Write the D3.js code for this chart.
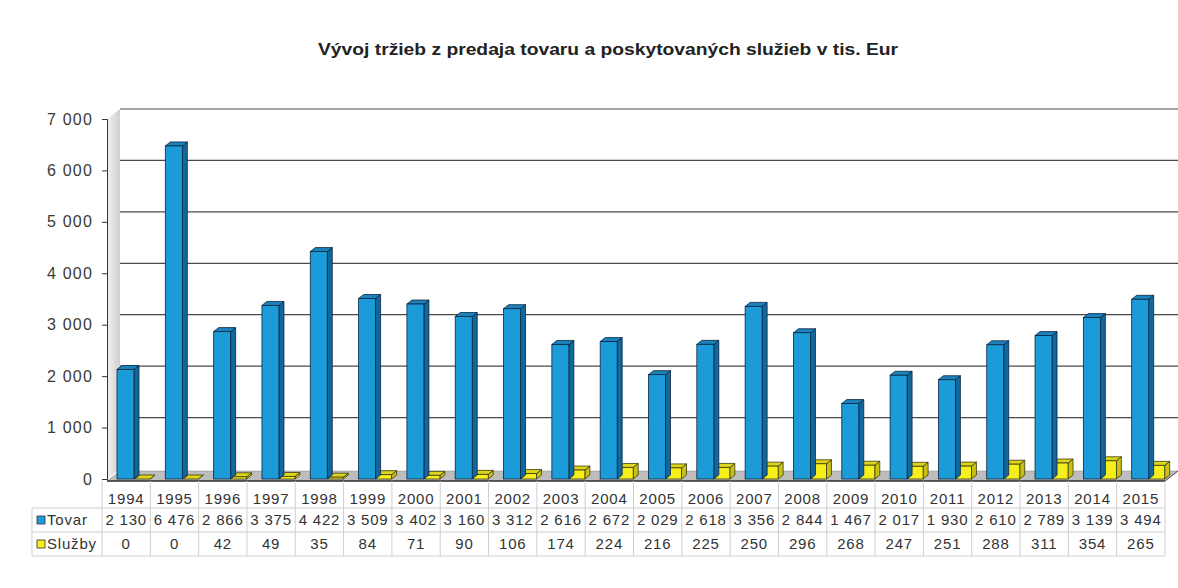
<!DOCTYPE html>
<html>
<head>
<meta charset="utf-8">
<script src="https://cdn.jsdelivr.net/npm/d3@7"></script>
<style>
  body { margin: 0; background: #fff; }
  svg text { font-family: "Liberation Sans", Arial, sans-serif; fill: #333; }
</style>
</head>
<body>
<svg id="chart" width="1178" height="588"></svg>
<script>
const years = ["1994","1995","1996","1997","1998","1999","2000","2001","2002","2003","2004",
  "2005","2006","2007","2008","2009","2010","2011","2012","2013","2014","2015"];
const tovar = [2130,6476,2866,3375,4422,3509,3402,3160,3312,2616,2672,2029,2618,3356,2844,1467,2017,1930,2610,2789,3139,3494];
const sluzby = [0,0,42,49,35,84,71,90,106,174,224,216,225,250,296,268,247,251,288,311,354,265];
const yTicks = [0,1000,2000,3000,4000,5000,6000,7000];
const title = "Vývoj tržieb z predaja tovaru a poskytovaných služieb v tis. Eur";

const svg = d3.select("#chart");

// 3D offsets of the back wall
const dx = 13, dy = -10;
const axisX = 107, rightX = 1178;

const x = d3.scaleBand().domain(years).range([102, 1165]);
const y = d3.scaleLinear().domain([0, 7000]).range([479, 119]);

const fmt = v => d3.format(",")(v).replace(/,/g, " ");

// title
svg.append("text")
  .attr("x", 608).attr("y", 55)
  .attr("text-anchor", "middle")
  .attr("font-size", 16).attr("font-weight", "bold")
  .attr("textLength", 580).attr("lengthAdjust", "spacingAndGlyphs")
  .style("fill", "#222")
  .text(title);

// gradient for side wall
const defs = svg.append("defs");
const grad = defs.append("linearGradient").attr("id", "wall").attr("x1", 0).attr("x2", 1);
grad.append("stop").attr("offset", "0%").attr("stop-color", "#f2f2f2");
grad.append("stop").attr("offset", "100%").attr("stop-color", "#cfcfcf");

// side wall
svg.append("path")
  .attr("d", `M${axisX},${y(7000)} L${axisX + dx},${y(7000) + dy} L${axisX + dx},${y(0) + dy} L${axisX},${y(0)} Z`)
  .attr("fill", "url(#wall)");

// floor
svg.append("path")
  .attr("d", `M${axisX},${y(0) + 2} L1165,${y(0) + 2} L${rightX},${y(0) + 2 + dy} L${axisX + dx},${y(0) + 2 + dy} Z`)
  .attr("fill", "#bdbdbd").attr("stroke", "#888").attr("stroke-width", 0.5);
svg.append("line")
  .attr("x1", axisX).attr("x2", 1165).attr("y1", y(0) + 2).attr("y2", y(0) + 2)
  .attr("stroke", "#333").attr("stroke-width", 1.5);
svg.append("line")
  .attr("x1", 1165).attr("x2", rightX).attr("y1", y(0) + 2).attr("y2", y(0) + 2 + dy)
  .attr("stroke", "#555").attr("stroke-width", 1);

// gridlines on back wall
svg.append("g").selectAll("line").data(yTicks.filter(d => d > 0)).join("line")
  .attr("x1", axisX + dx).attr("x2", rightX)
  .attr("y1", d => y(d) + dy).attr("y2", d => y(d) + dy)
  .attr("stroke", "#4a4a4a").attr("stroke-width", 1.2);

// y axis
const yAxis = svg.append("g")
  .attr("transform", `translate(${axisX},0)`)
  .call(d3.axisLeft(y).tickValues(yTicks).tickFormat(fmt).tickSize(5).tickPadding(9));
yAxis.select(".domain").attr("stroke", "#333");
yAxis.selectAll(".tick line").attr("stroke", "#333");
yAxis.selectAll("text")
  .attr("font-size", 16).style("letter-spacing", "1.2px")
  .attr("font-family", "Liberation Sans, Arial, sans-serif")
  .style("fill", "#3a3a3a");

// 3D bars
function bar3d(g, x0, w, v, colors) {
  const d = 5, h = -4;
  const top = y(v), base = y(0);
  g.append("path")
    .attr("d", `M${x0 + w},${top} L${x0 + w + d},${top + h} L${x0 + w + d},${base + h} L${x0 + w},${base} Z`)
    .attr("fill", colors.side).attr("stroke", colors.line).attr("stroke-width", 0.8);
  g.append("path")
    .attr("d", `M${x0},${top} L${x0 + d},${top + h} L${x0 + w + d},${top + h} L${x0 + w},${top} Z`)
    .attr("fill", colors.top).attr("stroke", colors.line).attr("stroke-width", 0.8);
  g.append("rect")
    .attr("x", x0).attr("y", top).attr("width", w).attr("height", base - top)
    .attr("fill", colors.front).attr("stroke", colors.line).attr("stroke-width", 0.8);
}

const blue = { front: "#1b9bd7", side: "#11689c", top: "#1a83bd", line: "#0b2440" };
const yellow = { front: "#f7ef1c", side: "#c9c016", top: "#ddd51a", line: "#3c3a10" };

const bars = svg.append("g");
years.forEach((yr, i) => {
  const x0 = x(yr);
  bar3d(bars, x0 + 33, 15, sluzby[i], yellow);
  bar3d(bars, x0 + 15, 17, tovar[i], blue);
});

// data table
const table = svg.append("g");
const gridCol = "#cfcfcf";
const rowTop = y(0) + 2, r1 = 508, r2 = 532, r3 = 556, legL = 32;
const tl = (x1, y1, x2, y2) => table.append("line")
  .attr("x1", x1).attr("y1", y1).attr("x2", x2).attr("y2", y2)
  .attr("stroke", gridCol).attr("stroke-width", 1);

const colEdges = years.map(yr => x(yr)).concat([x.range()[1]]);
colEdges.forEach(cx => tl(cx, rowTop, cx, r3));
tl(legL, r1, legL, r3);
tl(legL, r1, x.range()[1], r1);
tl(legL, r2, x.range()[1], r2);
tl(legL, r3, x.range()[1], r3);

const cellText = (vals, cy) => table.append("g").selectAll("text").data(vals).join("text")
  .attr("x", (d, i) => x(years[i]) + x.bandwidth() / 2)
  .attr("y", cy)
  .attr("text-anchor", "middle")
  .attr("dominant-baseline", "middle")
  .attr("font-size", 15).style("letter-spacing", "0.8px")
  .text(d => d);

cellText(years, 500);
cellText(tovar.map(fmt), 521);
cellText(sluzby.map(fmt), 545);

// legend keys in the table
const legend = [{ name: "Tovar", c: blue.front, cy: 520 }, { name: "Služby", c: yellow.front, cy: 544 }];
legend.forEach(l => {
  table.append("rect").attr("x", 37).attr("y", l.cy - 4).attr("width", 8).attr("height", 8)
    .attr("fill", l.c).attr("stroke", "#333").attr("stroke-width", 0.8);
  table.append("text").attr("x", 47).attr("y", l.cy + 1)
    .attr("dominant-baseline", "middle")
    .attr("font-size", 15).style("letter-spacing", "0.8px")
    .text(l.name);
});
</script>
</body>
</html>
